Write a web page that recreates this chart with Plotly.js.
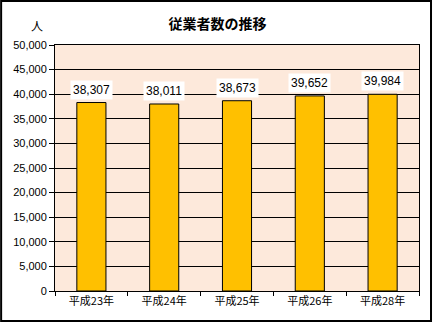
<!DOCTYPE html>
<html><head><meta charset="utf-8">
<script src="https://cdn.plot.ly/plotly-3.0.1.min.js"></script>
<style>html,body{margin:0;padding:0;background:#fff}</style>
</head><body>
<div id="chart" style="width:435px;height:323px"></div>
<script>
const categories = ["平成23年", "平成24年", "平成25年", "平成26年", "平成28年"];
const employees = [38307, 38011, 38673, 39652, 39984];
const yTicks = [0, 5000, 10000, 15000, 20000, 25000, 30000, 35000, 40000, 45000, 50000];

const fontFam = "Liberation Sans, Noto Sans CJK JP, sans-serif";
const fmt = v => v.toLocaleString("en-US");

const annotations = categories.map((c, i) => ({
  x: c, y: employees[i], xref: "x", yref: "y",
  text: fmt(employees[i]), showarrow: false, yshift: 13,
  bgcolor: "#ffffff", borderpad: 2,
  font: {family: fontFam, size: 12, color: "#000"}
}));
annotations.push({
  x: -0.049, y: 1.081, xref: "paper", yref: "paper", xanchor: "center", yanchor: "middle",
  text: "人", showarrow: false,
  font: {family: "Noto Sans CJK JP, sans-serif", size: 12, color: "#000"}
});

Plotly.newPlot("chart", [{
  type: "bar", x: categories, y: employees,
  marker: {color: "#FFC000", line: {color: "#000", width: 1}},
  hoverinfo: "none"
}], {
  width: 435, height: 323,
  margin: {l: 55, r: 16, t: 45, b: 32},
  paper_bgcolor: "#ffffff", plot_bgcolor: "#FDE9DB",
  bargap: 0.6, showlegend: false,
  title: {text: "<b>従業者数の推移</b>", x: 0.5, xanchor: "center", y: 0.94, yref: "container",
    font: {family: "Noto Sans CJK JP, sans-serif", size: 14, color: "#000"}},
  xaxis: {type: "category", tickson: "boundaries", ticks: "outside", ticklen: 4, tickcolor: "#000",
    showline: true, linecolor: "#000", linewidth: 1, mirror: true, showgrid: false,
    tickfont: {family: "Noto Sans CJK JP, sans-serif", size: 11, color: "#000"}},
  yaxis: {range: [0, 50000], tickvals: yTicks, ticktext: yTicks.map(fmt), ticks: "outside", ticklen: 5,
    tickcolor: "#000", showline: true, linecolor: "#000", linewidth: 1, mirror: true,
    showgrid: true, gridcolor: "#000", gridwidth: 1, zeroline: false,
    tickfont: {family: fontFam, size: 11, color: "#000"}},
  annotations: annotations,
  shapes: [{type: "rect", xref: "paper", yref: "paper", x0: -0.148, x1: 1.033, y0: -0.122, y1: 1.179,
    line: {color: "#000", width: 2}, fillcolor: "rgba(0,0,0,0)", layer: "above"}]
}, {staticPlot: true});
</script>
</body></html>
